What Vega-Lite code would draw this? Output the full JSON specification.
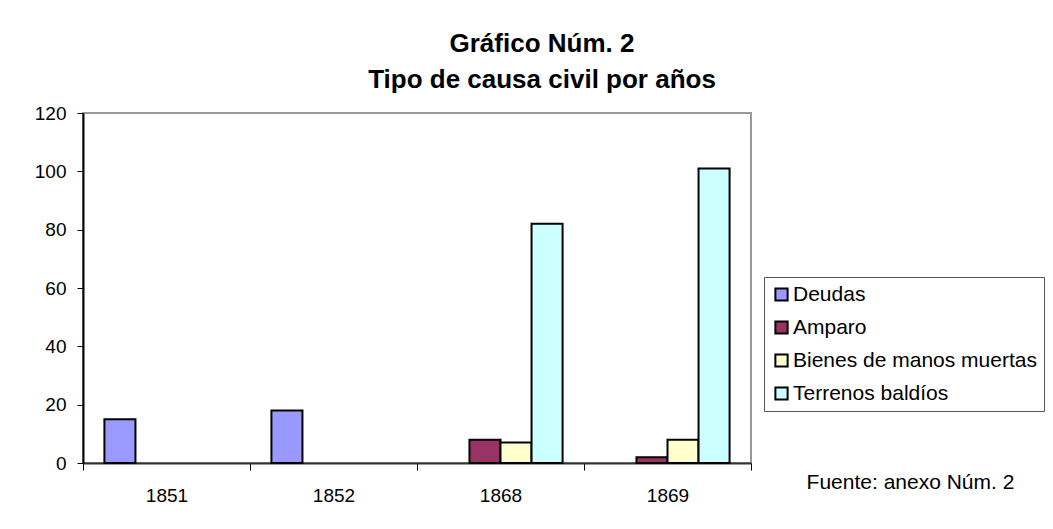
{
  "$schema": "https://vega.github.io/schema/vega-lite/v6.json",
  "autosize": "none",
  "width": 668,
  "height": 350,
  "padding": {"left": 83, "top": 113, "right": 302, "bottom": 66},
  "background": "white",
  "title": {
    "text": ["Gráfico Núm. 2", "Tipo de causa civil por años"],
    "anchor": "middle",
    "frame": "group",
    "dx": 125,
    "offset": 11,
    "lineHeight": 36,
    "fontSize": 26,
    "fontWeight": "bold",
    "font": "Liberation Sans",
    "color": "black"
  },
  "config": {
    "font": "Liberation Sans",
    "view": {"stroke": "#999999", "strokeWidth": 2},
    "axis": {"grid": false, "labelColor": "black", "labelFontSize": 19, "labelFont": "Liberation Sans"}
  },
  "data": {
    "values": [
      {"year": "1851", "tipo": "Deudas", "n": 15},
      {"year": "1852", "tipo": "Deudas", "n": 18},
      {"year": "1868", "tipo": "Amparo", "n": 8},
      {"year": "1868", "tipo": "Bienes de manos muertas", "n": 7},
      {"year": "1868", "tipo": "Terrenos baldíos", "n": 82},
      {"year": "1869", "tipo": "Amparo", "n": 2},
      {"year": "1869", "tipo": "Bienes de manos muertas", "n": 8},
      {"year": "1869", "tipo": "Terrenos baldíos", "n": 101}
    ]
  },
  "mark": {"type": "bar", "stroke": "black", "strokeWidth": 2},
  "encoding": {
    "x": {
      "field": "year",
      "type": "nominal",
      "scale": {"paddingInner": 0, "paddingOuter": 0},
      "axis": {
        "labelAngle": 0,
        "tickBand": "extent",
        "tickSize": 7,
        "tickColor": "black",
        "domainColor": "#333333",
        "domainWidth": 2,
        "labelPadding": 16,
        "title": "Fuente: anexo Núm. 2",
        "titleX": 827,
        "titleY": 19,
        "titleAlign": "center",
        "titleBaseline": "middle",
        "titleFontSize": 21,
        "titleFontWeight": "normal",
        "titleColor": "black",
        "titleFont": "Liberation Sans"
      }
    },
    "xOffset": {
      "field": "tipo",
      "type": "nominal",
      "sort": ["Deudas", "Amparo", "Bienes de manos muertas", "Terrenos baldíos"],
      "scale": {"domain": ["Deudas", "Amparo", "Bienes de manos muertas", "Terrenos baldíos"], "paddingInner": 0, "paddingOuter": 0.69}
    },
    "y": {
      "field": "n",
      "type": "quantitative",
      "scale": {"domain": [0, 120], "nice": false},
      "axis": {
        "title": null,
        "values": [0, 20, 40, 60, 80, 100, 120],
        "tickSize": 6,
        "tickColor": "black",
        "domainColor": "black",
        "domainWidth": 2,
        "labelPadding": 11
      }
    },
    "fill": {
      "field": "tipo",
      "type": "nominal",
      "scale": {
        "domain": ["Deudas", "Amparo", "Bienes de manos muertas", "Terrenos baldíos"],
        "range": ["#9999FF", "#993366", "#FFFFCC", "#CCFFFF"]
      },
      "legend": {
        "title": null,
        "orient": "none",
        "legendX": 681,
        "legendY": 164,
        "symbolType": "square",
        "symbolSize": 150,
        "symbolStrokeColor": "black",
        "symbolStrokeWidth": 2,
        "symbolOpacity": 1,
        "labelFontSize": 21,
        "labelColor": "black",
        "labelFont": "Liberation Sans",
        "labelOffset": 1,
        "rowPadding": 11,
        "strokeColor": "#555555",
        "padding": 7,
        "labelLimit": 400
      }
    }
  }
}
